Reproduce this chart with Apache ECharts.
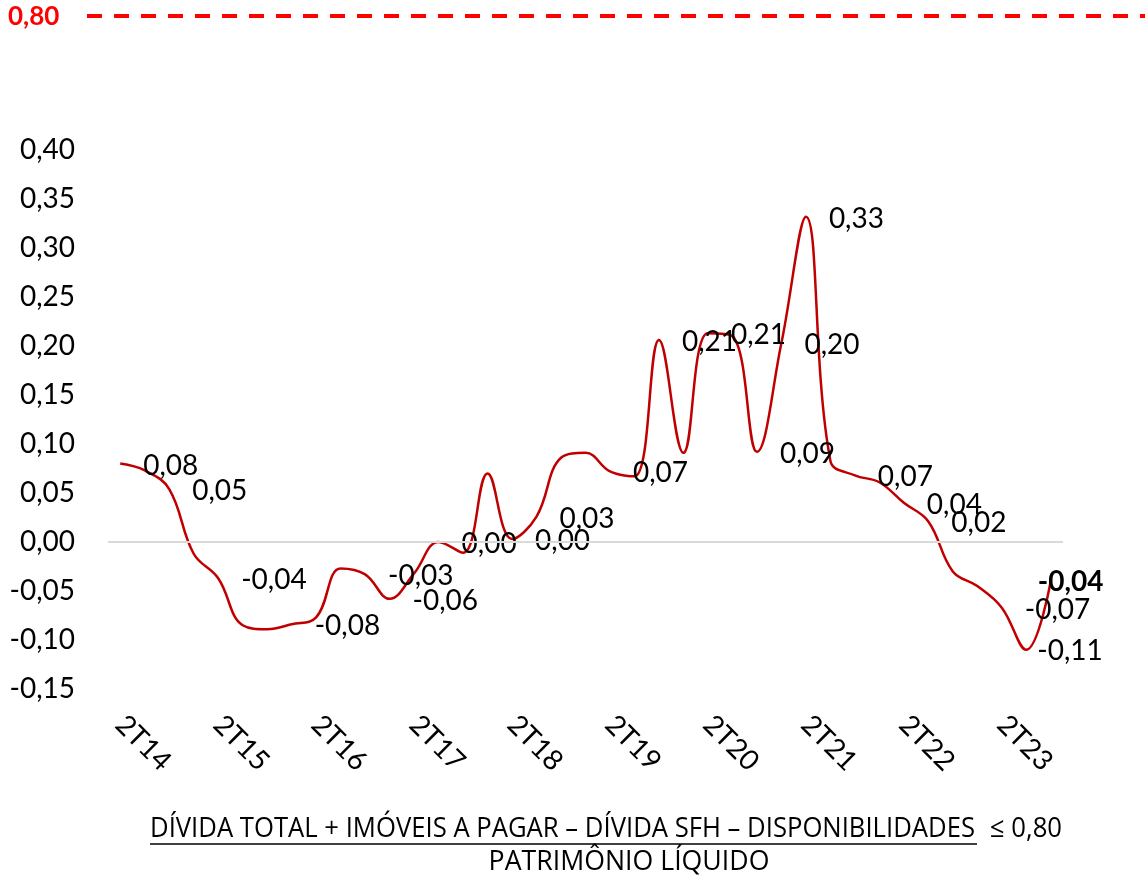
<!DOCTYPE html>
<html>
<head>
<meta charset="utf-8">
<title>Alavancagem</title>
<script src="https://cdn.jsdelivr.net/npm/echarts@6/dist/echarts.min.js"></script>
<style>
html, body { margin: 0; padding: 0; background: #fff; }
#grafico { width: 1145px; height: 877px; }
</style>
</head>
<body>
<div id="grafico"></div>
<script>
var trimestres = ['2T14', '3T14', '4T14',
    '1T15', '2T15', '3T15', '4T15',
    '1T16', '2T16', '3T16', '4T16',
    '1T17', '2T17', '3T17', '4T17',
    '1T18', '2T18', '3T18', '4T18',
    '1T19', '2T19', '3T19', '4T19',
    '1T20', '2T20', '3T20', '4T20',
    '1T21', '2T21', '3T21', '4T21',
    '1T22', '2T22', '3T22', '4T22',
    '1T23', '2T23', '3T23', '4T23'];

var indice = [0.080, 0.073, 0.054,
    -0.012, -0.037, -0.085, -0.089,
    -0.084, -0.077, -0.027, -0.033,
    -0.058, -0.032, 0.000, -0.011,
    0.070, 0.003, 0.026, 0.086,
    0.091, 0.072, 0.067, 0.206,
    0.091, 0.213, 0.210, 0.092,
    0.203, 0.332, 0.083, 0.068,
    0.061, 0.040, 0.021, -0.030,
    -0.045, -0.067, -0.110, -0.040];

// pontos que tem rotulo de dado
var rotulos = [0, 2, 4, 7, 10, 11, 13, 16, 17, 20, 22, 24, 26, 27, 28, 30, 32, 33, 36, 37, 38];

var yMin = -0.15;
var yMax = 0.40;
var yPasso = 0.05;
var limite = 0.80;

var numerador = 'DÍVIDA TOTAL + IMÓVEIS A PAGAR – DÍVIDA SFH – DISPONIBILIDADES';
var denominador = 'PATRIMÔNIO LÍQUIDO';

function fmt(v) {
    return v.toFixed(2).replace('.', ',');
}

var fonte = 'Lato';
var fonteFormula = '"Open Sans"';

// medir o texto da formula para caber na largura do original
var cv = document.createElement('canvas').getContext('2d');
cv.font = '28px ' + fonteFormula;
var escala = 825 / cv.measureText(numerador).width;

var dados = indice.map(function (v, i) {
    var item = { value: v };
    if (rotulos.indexOf(i) >= 0) {
        item.label = { show: true };
    }
    if (i == 37) {
        item.label.offset = [-12, 1];
    }
    if (i == 38) {
        item.label.offset = [-36, 1];
        item.label.fontWeight = 'bold';
    }
    return item;
});

var myChart = echarts.init(document.getElementById('grafico'));

var option = {
    animation: false,
    backgroundColor: '#ffffff',
    grid: {
        left: 108,
        right: 82,
        top: 150,
        bottom: 188
    },
    xAxis: {
        type: 'category',
        data: trimestres,
        boundaryGap: true,
        axisLine: { show: false },
        axisTick: { show: false },
        axisLabel: {
            interval: 3,
            rotate: -45,
            margin: 31,
            color: '#000',
            fontFamily: fonte,
            fontSize: 28
        }
    },
    yAxis: {
        type: 'value',
        min: yMin,
        max: yMax,
        interval: yPasso,
        axisLine: { show: false },
        axisTick: { show: false },
        splitLine: { show: false },
        axisLabel: {
            margin: 33,
            color: '#000',
            fontFamily: fonte,
            fontSize: 28,
            formatter: function (v) {
                return fmt(v);
            }
        }
    },
    series: [{
        type: 'line',
        data: dados,
        smooth: 0.4,
        symbol: 'circle',
        symbolSize: 2,
        showSymbol: true,
        showAllSymbol: true,
        itemStyle: { color: 'rgba(0,0,0,0)' },
        lineStyle: { color: '#C00000', width: 2.5 },
        label: {
            show: false,
            position: 'right',
            distance: 22,
            offset: [0, 2],
            color: '#000',
            fontFamily: fonte,
            fontSize: 28,
            formatter: function (p) {
                return fmt(p.value);
            }
        },
        emphasis: { disabled: true },
        markLine: {
            silent: true,
            symbol: ['none', 'none'],
            label: { show: false },
            lineStyle: { color: '#d9d9d9', width: 2, type: 'solid' },
            data: [{ yAxis: 0 }]
        }
    }],
    graphic: [
        {
            type: 'text',
            x: 8,
            y: 17,
            style: {
                text: fmt(limite),
                fill: '#FF0000',
                font: 'bold 26px ' + fonte,
                verticalAlign: 'middle'
            }
        },
        {
            type: 'line',
            shape: { x1: 87, y1: 16, x2: 1145, y2: 16 },
            style: { stroke: '#FF0000', lineWidth: 4, lineDash: [15, 12] }
        },
        {
            type: 'text',
            x: 150,
            y: 829,
            scaleX: escala,
            style: {
                text: numerador,
                fill: '#000',
                font: '28px ' + fonteFormula,
                verticalAlign: 'middle'
            }
        },
        {
            type: 'line',
            shape: { x1: 150, y1: 844, x2: 977, y2: 844 },
            style: { stroke: '#000', lineWidth: 1.5 }
        },
        {
            type: 'text',
            x: 990,
            y: 829,
            scaleX: escala,
            style: {
                text: '≤ ' + fmt(limite),
                fill: '#000',
                font: '28px ' + fonteFormula,
                verticalAlign: 'middle'
            }
        },
        {
            type: 'text',
            x: 629,
            y: 862,
            scaleX: escala * 1.04,
            style: {
                text: denominador,
                fill: '#000',
                font: '28px ' + fonteFormula,
                align: 'center',
                verticalAlign: 'middle'
            }
        }
    ]
};

myChart.setOption(option);
</script>
</body>
</html>
